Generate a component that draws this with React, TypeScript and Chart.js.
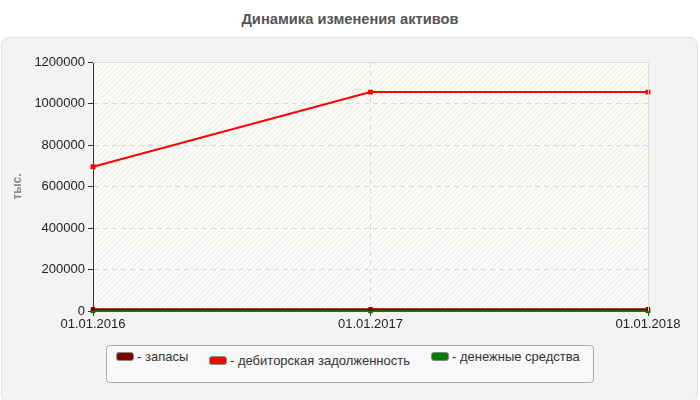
import React, { useEffect, useRef } from "react";
import { Chart, registerables } from "chart.js";

Chart.register(...registerables);

const categories = ["01.01.2016", "01.01.2017", "01.01.2018"];
const zapasy = [9000, 9000, 9000];
const debitor = [695000, 1055000, 1055000];
const dengi = [500, 500, 500];
const yTicks = [0, 200000, 400000, 600000, 800000, 1000000, 1200000];

const FONT = "'Liberation Sans', Arial, sans-serif";

const plotBg = {
  id: "plotBg",
  beforeDraw(chart: any) {
    const { ctx, chartArea: a } = chart;
    if (!a) return;
    ctx.save();
    const g = ctx.createLinearGradient(0, a.top, 0, a.bottom);
    g.addColorStop(0, "#fcfcf3");
    g.addColorStop(1, "#fbfbfb");
    ctx.fillStyle = g;
    ctx.fillRect(a.left, a.top, a.right - a.left, a.bottom - a.top);
    ctx.beginPath();
    ctx.rect(a.left, a.top, a.right - a.left, a.bottom - a.top);
    ctx.clip();
    ctx.strokeStyle = "rgba(220,220,220,0.55)";
    ctx.lineWidth = 1;
    const h = a.bottom - a.top;
    for (let x = a.left - h; x < a.right + h; x += 5) {
      ctx.beginPath();
      ctx.moveTo(x, a.bottom);
      ctx.lineTo(x + h, a.top);
      ctx.stroke();
    }
    ctx.restore();
  },
  afterDatasetsDraw(chart: any) {
    const { ctx, chartArea: a } = chart;
    ctx.save();
    ctx.strokeStyle = "#dcdcdc";
    ctx.lineWidth = 1;
    ctx.setLineDash([]);
    ctx.beginPath();
    ctx.moveTo(a.left, a.top + 0.5);
    ctx.lineTo(a.right + 0.5, a.top + 0.5);
    ctx.lineTo(a.right + 0.5, a.bottom);
    ctx.stroke();
    ctx.restore();
  },
};

export default function App() {
  const ref = useRef<HTMLCanvasElement | null>(null);
  useEffect(() => {
    if (!ref.current) return;
    const chart = new Chart(ref.current, {
      type: "line",
      data: {
        labels: categories,
        datasets: [
          {
            label: "дебиторская задолженность",
            data: debitor,
            borderColor: "#ff0000",
            backgroundColor: "#ff0000",
            borderWidth: 2,
            pointRadius: 2,
            pointStyle: "rect",
            order: 3,
          },
          {
            label: "денежные средства",
            data: dengi,
            borderColor: "#008000",
            backgroundColor: "#008000",
            borderWidth: 2,
            pointRadius: 2,
            pointStyle: "rect",
            order: 2,
            clip: false,
          },
          {
            label: "запасы",
            data: zapasy,
            borderColor: "#800000",
            backgroundColor: "#800000",
            borderWidth: 2,
            pointRadius: 1.5,
            pointStyle: "rect",
            order: 1,
          },
        ],
      },
      options: {
        responsive: false,
        animation: false,
        layout: { padding: { top: 62, right: 52, left: 0, bottom: 0 } },
        plugins: { legend: { display: false }, title: { display: false }, tooltip: { enabled: false } },
        scales: {
          x: {
            type: "category",
            offset: false,
            grid: {
              color: (c: any) => (c.index === 1 ? "#d8d8d8" : "rgba(0,0,0,0)"),
              tickColor: "#333",
              tickLength: 5,
              tickBorderDash: [],
              drawTicks: true,
            },
            border: { color: "#333", width: 1, dash: [5, 4] },
            ticks: { color: "#222", font: { family: FONT, size: 13 }, padding: 1, maxRotation: 0, autoSkip: false },
            afterFit: (s: any) => {
              s.height = 89;
            },
          },
          y: {
            min: 0,
            max: 1200000,
            afterBuildTicks: (s: any) => {
              s.ticks = yTicks.map((v) => ({ value: v }));
            },
            grid: {
              color: (c: any) => (c.tick && (c.tick.value === 0 || c.tick.value === 1200000) ? "rgba(0,0,0,0)" : "#d8d8d8"),
              tickColor: "#333",
              tickLength: 5,
              tickBorderDash: [],
            },
            border: { color: "#333", width: 1, dash: [5, 4] },
            ticks: {
              color: "#222",
              font: { family: FONT, size: 13 },
              padding: 3,
              callback: (v: any) => String(v),
            },
            title: {
              display: true,
              text: "тыс.",
              color: "#888",
              font: { family: FONT, size: 12, weight: "bold" },
              padding: { top: 10, bottom: 0 },
            },
            afterFit: (s: any) => {
              s.width = 93;
            },
          },
        },
      },
      plugins: [plotBg],
    } as any);
    return () => chart.destroy();
  }, []);

  const legendItem = (left: number, top: number, color: string, text: string) => (
    <div style={{ position: "absolute", left, top, display: "flex", alignItems: "center", whiteSpace: "nowrap" }}>
      <div
        style={{
          width: 16,
          height: 7,
          background: color,
          border: "1px solid #8a8a8a",
          borderRadius: 3,
          marginRight: 3,
        }}
      />
      <span style={{ fontFamily: FONT, fontSize: 13, color: "#333" }}>- {text}</span>
    </div>
  );

  return (
    <div style={{ position: "fixed", left: 0, top: 0, width: 700, height: 400, background: "#fff", overflow: "hidden" }}>
      <div
        style={{
          position: "absolute",
          left: 1,
          top: 37,
          width: 695,
          height: 364,
          background: "#f3f3f3",
          border: "1px solid #e2e2e2",
          borderRadius: 8,
        }}
      />
      <div
        style={{
          position: "absolute",
          left: 0,
          top: 11,
          width: 700,
          textAlign: "center",
          fontFamily: FONT,
          fontWeight: "bold",
          fontSize: 14.7,
          color: "#555",
        }}
      >
        Динамика изменения активов
      </div>
      <canvas ref={ref} width={700} height={400} style={{ position: "absolute", left: 0, top: 0 }} />
      <div
        style={{
          position: "absolute",
          left: 106,
          top: 345,
          width: 486,
          height: 36,
          background: "#f8f8f8",
          border: "1px solid #aaa",
          borderRadius: 4,
        }}
      />
      {legendItem(116, 349, "#800000", "запасы")}
      {legendItem(209, 353, "#ff0000", "дебиторская задолженность")}
      {legendItem(431, 349, "#008000", "денежные средства")}
    </div>
  );
}
